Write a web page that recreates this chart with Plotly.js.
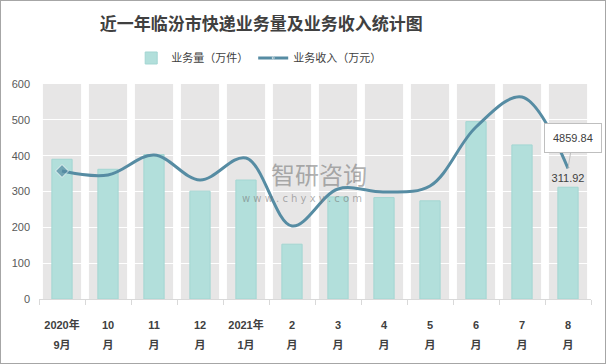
<!DOCTYPE html>
<html><head><meta charset="utf-8">
<script src="https://cdn.plot.ly/plotly-3.0.1.min.js"></script>
<style>
html,body{margin:0;padding:0;background:#fff}
#wrap{position:relative;width:606px;height:364px}
#chart{width:606px;height:364px}
#frame{position:absolute;left:0;top:0;width:606px;height:364px;box-sizing:border-box;border:1px solid #a6a6a6;pointer-events:none}
</style>
</head><body>
<div id="wrap"><div id="chart"></div><div id="frame"></div></div>
<script>
// ---- data ----
const categories = ['2020-09','2020-10','2020-11','2020-12','2021-01','2021-02','2021-03','2021-04','2021-05','2021-06','2021-07','2021-08'];
const labelLine1 = ['2020年','10','11','12','2021年','2','3','4','5','6','7','8'];
const labelLine2 = ['9月','月','月','月','1月','月','月','月','月','月','月','月'];
const volume = [390, 362, 403, 301, 332, 153, 285, 283, 274, 495, 430, 311.92];      // 业务量（万件）
const revenue = [4763, 4614, 5358, 4428, 5247, 2716, 4093, 3981, 4205, 6400, 7516, 4859.84]; // 业务收入（万元）
const volumeName = '业务量（万件）';
const revenueName = '业务收入（万元）';
const titleText = '近一年临汾市快递业务量及业务收入统计图';
const yMax = 600;
const y2Max = 8000;

// ---- derived ----
const sp = s => '<span style="font-size:11px">' + s + '</span>';
const tickText = labelLine1.map((l, i) => sp(l) + '<br>' + sp(labelLine2[i]));
const last = volume.length - 1;
const volText = volume.map((v, i) => i === last ? v.toFixed(2) : '');
const markerSizes = revenue.map((v, i) => i === 0 ? 10 : 0);
const bands = categories.map(() => yMax);

const CJK = 'Liberation Sans, Noto Sans CJK SC, sans-serif';

const traces = [
  { type:'bar', x:categories, y:bands, xaxis:'x', yaxis:'y', width:0.83,
    marker:{color:'#e7e6e6'}, showlegend:false, hoverinfo:'skip' },
  { type:'bar', name:volumeName, x:categories, y:volume, xaxis:'x2', yaxis:'y2', width:0.44,
    marker:{color:'#b2dfdb', line:{color:'#a3d6d2', width:1}},
    text:volText, textposition:'outside', cliponaxis:false, constraintext:'none',
    textfont:{family:CJK, size:11, color:'#404040'} },
  { type:'scatter', mode:'lines+markers', name:revenueName, x:categories, y:revenue,
    xaxis:'x2', yaxis:'y3',
    line:{color:'#568ca3', width:3, shape:'spline', smoothing:1},
    marker:{symbol:'diamond', size:markerSizes, color:'#568ca3'} }
];

const layout = {
  width:606, height:364,
  margin:{l:39, r:15, t:84, b:65},
  paper_bgcolor:'#ffffff', plot_bgcolor:'rgba(0,0,0,0)',
  font:{family:CJK, color:'#404040'},
  title:{text:titleText, x:0.431, xanchor:'center', xref:'container', y:1-24/364, yanchor:'middle', yref:'container',
    font:{family:'Noto Sans CJK SC', size:17, color:'#404040', weight:'bold'}},
  showlegend:true,
  legend:{orientation:'h', x:0.398, xanchor:'center', y:1.121, yanchor:'middle',
    font:{family:'Noto Sans CJK SC', size:11, color:'#404040'}, bgcolor:'rgba(0,0,0,0)'},
  xaxis:{anchor:'y', type:'category', range:[-0.5, 11.5], visible:false, fixedrange:true},
  yaxis:{anchor:'x', range:[0, yMax], visible:false, fixedrange:true},
  xaxis2:{anchor:'y2', type:'category', range:[-0.5, 11.5], tickmode:'array', tickvals:categories, ticktext:tickText,
    tickfont:{family:CJK, size:15, color:'#404040', weight:'bold'}, ticklabelstandoff:11,
    showline:true, linecolor:'#d9d9d9', linewidth:1, ticks:'outside', tickson:'boundaries', ticklen:5, tickcolor:'#d9d9d9',
    showgrid:false, zeroline:false, fixedrange:true},
  yaxis2:{anchor:'x2', range:[0, yMax], tick0:0, dtick:100, showgrid:true, gridcolor:'#ffffff', gridwidth:1,
    zeroline:false, showline:false, ticks:'', ticklabelstandoff:8,
    tickfont:{family:CJK, size:11, color:'#595959'}, fixedrange:true},
  yaxis3:{anchor:'x2', overlaying:'y2', range:[0, y2Max], visible:false, fixedrange:true},
  annotations:[
    { xref:'x2', yref:'y3', x:categories[last], y:revenue[last], text:revenue[last].toFixed(2),
      showarrow:true, arrowhead:0, arrowwidth:1, arrowcolor:'#bfbfbf', ax:5, ay:-30,
      bgcolor:'#ffffff', bordercolor:'#bfbfbf', borderwidth:1, borderpad:8,
      font:{family:CJK, size:11, color:'#404040'} },
    { xref:'paper', yref:'paper', x:0.507, y:0.585, text:'智研咨询', showarrow:false,
      font:{family:'Noto Sans CJK SC', size:24, color:'rgba(110,110,110,0.55)'} },
    { xref:'paper', yref:'paper', x:0.476, y:0.468, text:'w w w . c h y x y . c o m', showarrow:false,
      font:{family:'DejaVu Sans', size:10, color:'rgba(110,110,110,0.55)'} }
  ]
};

Plotly.newPlot('chart', traces, layout, {displayModeBar:false, staticPlot:true});
</script>
</body></html>
